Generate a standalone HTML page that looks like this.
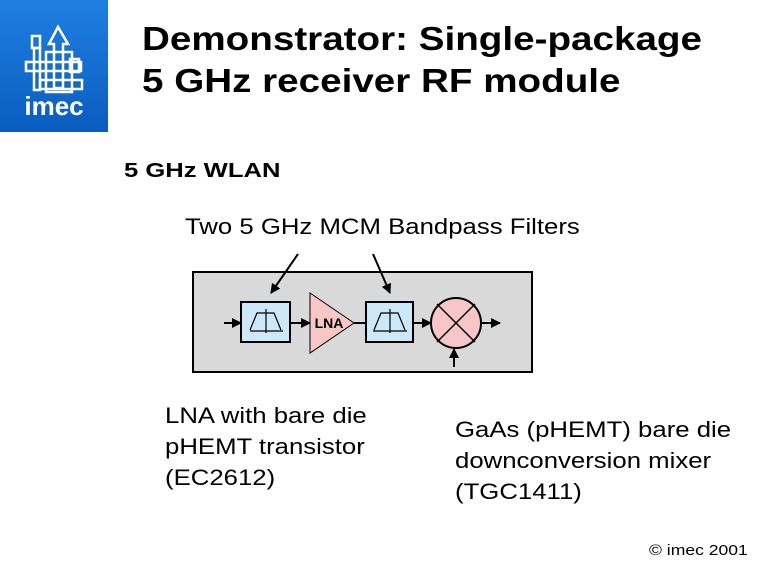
<!DOCTYPE html>
<html><head><meta charset="utf-8"><style>
body{margin:0;width:768px;height:576px;background:#fff;position:relative;font-family:"Liberation Sans",Arial,sans-serif;overflow:hidden}
.t{position:absolute;white-space:nowrap;transform-origin:0 0;transform:scaleX(1.17)}
</style></head><body>
<div style="position:absolute;left:0;top:0;width:108px;height:132px;background:linear-gradient(#1f7fe0,#0a5cc0)"></div>
<svg style="position:absolute;left:0;top:0" width="108" height="132">
<g fill="none" stroke="#fff" stroke-width="2.5">
<path d="M58 27 L49 44 H54 V88 H63 V44 H68 Z"/>
<rect x="32" y="36" width="8" height="12"/>
<rect x="34" y="48" width="6" height="42"/>
<rect x="26" y="62" width="55" height="9"/>
<rect x="40" y="80" width="42" height="9"/>
<rect x="70" y="59" width="9" height="13"/>
<rect x="46" y="52" width="26" height="40"/>
</g>
<text x="54" y="115" fill="#fff" font-family="Liberation Sans" font-weight="bold" font-size="26" text-anchor="middle">imec</text>
</svg>
<div class="t" style="left:142px;top:18px;font-size:33px;font-weight:bold;line-height:42px">Demonstrator: Single-package<br>5 GHz receiver RF module</div>
<div class="t" style="left:124px;top:160px;font-size:20px;font-weight:bold;transform:scaleX(1.28)">5 GHz WLAN</div>
<div class="t" style="left:185px;top:214px;font-size:22px">Two 5 GHz MCM Bandpass Filters</div>
<svg style="position:absolute;left:0;top:0" width="768" height="576">
<defs><marker id="a" markerWidth="10" markerHeight="10" refX="9" refY="5" orient="auto" markerUnits="userSpaceOnUse"><path d="M0 0 L10 5 L0 10Z" fill="#000"/></marker></defs>
<rect x="193" y="272" width="339" height="100" fill="#d9d9d9" stroke="#000" stroke-width="2"/>
<g stroke="#000" stroke-width="2" fill="none">
<line x1="298" y1="254" x2="271" y2="293" marker-end="url(#a)"/>
<line x1="373" y1="254" x2="390" y2="293" marker-end="url(#a)"/>
<line x1="224" y1="323" x2="241" y2="323" marker-end="url(#a)"/>
<line x1="290" y1="323" x2="310" y2="323" marker-end="url(#a)"/>
<line x1="354" y1="323" x2="366" y2="323"/>
<line x1="413" y1="323" x2="431" y2="323" marker-end="url(#a)"/>
<line x1="482" y1="323" x2="500" y2="323" marker-end="url(#a)"/>
<line x1="454" y1="367" x2="454" y2="349" marker-end="url(#a)"/>
</g>
<rect x="241" y="302" width="49" height="40" fill="#cde8f8" stroke="#000" stroke-width="2"/>
<rect x="366" y="302" width="47" height="40" fill="#cde8f8" stroke="#000" stroke-width="2"/>
<g stroke="#000" stroke-width="1.2" fill="none">
<path d="M250 331 H283 M250 330 L257 313 H274 L281 330 M266 309 V333"/>
<path d="M373 331 H407 M374 330 L381 313 H398 L405 330 M390 309 V333"/>
</g>
<path d="M310 293 L354 323 L310 353 Z" fill="#f7c6c6" stroke="#000" stroke-width="1"/>
<text x="329" y="328" font-size="14" font-weight="bold" text-anchor="middle" font-family="Liberation Sans">LNA</text>
<circle cx="456" cy="323" r="25" fill="#f7c6c6" stroke="#000" stroke-width="2"/>
<path d="M437 304 L475 342 M475 304 L437 342" stroke="#000" stroke-width="1.5"/>
</svg>
<div class="t" style="left:165px;top:400px;font-size:22px;line-height:31px">LNA with bare die<br>pHEMT transistor<br>(EC2612)</div>
<div class="t" style="left:455px;top:414px;font-size:22px;line-height:31px">GaAs (pHEMT) bare die<br>downconversion mixer<br>(TGC1411)</div>
<div class="t" style="left:649px;top:542px;font-size:15px">© imec 2001</div>
</body></html>
